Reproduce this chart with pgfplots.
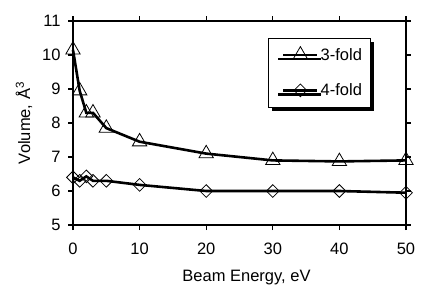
\documentclass[border=0pt]{standalone}
\usepackage{fontspec}
\setmainfont{Liberation Sans}
\usepackage{pgfplots}
\pgfplotsset{compat=1.18}
\usetikzlibrary{shadows}
\newcommand{\bigf}{\fontsize{16.5}{19}\selectfont}
\begin{document}
\begin{tikzpicture}[x=1pt,y=1pt,font=\bigf]
\begin{axis}[
  name=ax,
  at={(73pt,76pt)}, anchor=south west,
  scale only axis, width=333pt, height=204pt,
  xmin=0, xmax=50, ymin=5, ymax=11,
  xtick={0,10,20,30,40,50}, ytick={5,6,7,8,9,10,11},
  tick align=outside, major tick length=5pt,
  axis line style={line width=1.2pt},
  tick style={line width=1.2pt, black},
  /pgf/number format/assume math mode=true,
  every tick label/.append style={font=\bigf},
  xticklabel style={font=\bigf, yshift=-9pt},
  yticklabel style={font=\bigf, xshift=-4pt},
  every axis label/.append style={font=\bigf},
  xlabel={Beam Energy, eV},
  ylabel={Volume, Å\textsuperscript{3}},
  xlabel style={yshift=-9pt, xshift=7pt},
  ylabel style={yshift=3pt},
  clip=false,
  legend style={at={(rel axis cs:0.586,0.917)}, anchor=north west,
    draw=black, line width=0.5pt, fill=white,
    general shadow={fill=black, shadow xshift=4pt, shadow yshift=-4pt},
    font=\bigf, nodes={inner xsep=2pt},
    inner xsep=6pt, inner ysep=8pt, row sep=18pt},
  legend cell align=left,
  legend image code/.code={\path[draw=none,fill=none] (0pt,0pt) -- (9pt,0pt);\draw[#1,mark repeat=2,mark phase=2] plot coordinates {(9pt,0pt)(26pt,0pt)(43pt,0pt)};},
]
\addplot[black, line width=2.6pt, mark=triangle, mark size=8.3pt, mark options={solid, line width=0.8pt, fill=white}]
  coordinates {(0,10.15)(1,8.95)(2,8.3)(3,8.3)(5,7.85)(10,7.45)(20,7.1)(30,6.9)(40,6.87)(50,6.9)};
\addlegendentry{3-fold}
\addplot[black, line width=2.6pt, mark=square, mark size=4.5pt, mark options={solid, rotate=45, line width=0.8pt, fill=white}]
  coordinates {(0,6.4)(1,6.3)(2,6.43)(3,6.3)(5,6.3)(10,6.18)(20,6.0)(30,6.0)(40,6.0)(50,5.95)};
\addlegendentry{4-fold}
\end{axis}
\path (0,0) rectangle (436,301);
\end{tikzpicture}
\end{document}
